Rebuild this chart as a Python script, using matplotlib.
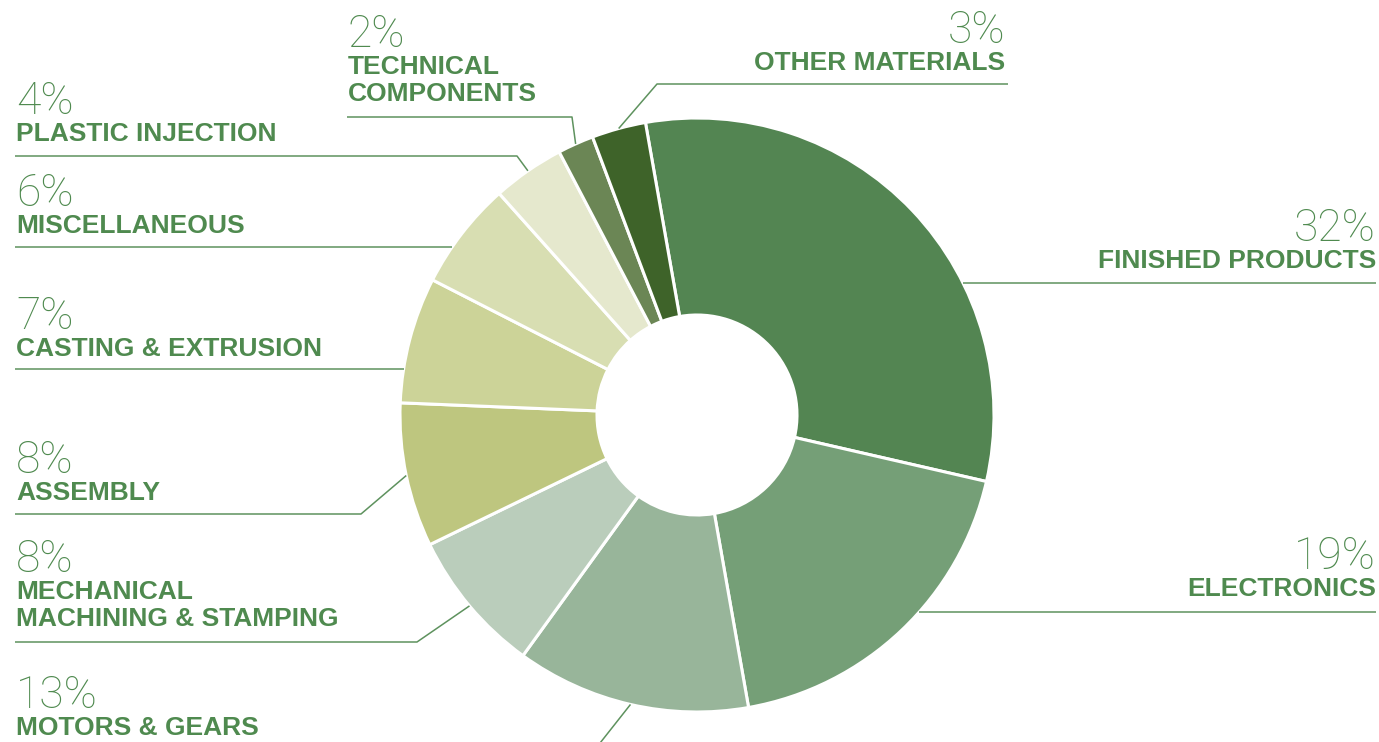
import matplotlib
matplotlib.use("Agg")
import matplotlib.pyplot as plt
import numpy as np

# share of purchases by category, going clockwise from the top
categories = [
    "FINISHED PRODUCTS",
    "ELECTRONICS",
    "MOTORS & GEARS",
    "MECHANICAL\nMACHINING & STAMPING",
    "ASSEMBLY",
    "CASTING & EXTRUSION",
    "MISCELLANEOUS",
    "PLASTIC INJECTION",
    "TECHNICAL\nCOMPONENTS",
    "OTHER MATERIALS",
]
shares = [32, 19, 13, 8, 8, 7, 6, 4, 2, 3]
colors = [
    "#538552", "#759f77", "#98b59a", "#bacdbb", "#bec67f",
    "#ccd398", "#d8deb2", "#e5e8cd", "#6b8655", "#3e6329",
]

W, H = 1379, 742
CX, CY, R, R_IN = 697, 415, 297, 100
GREEN = "#4f8a4f"
LINE = "#5e925e"

# label layout in pixels (y down):
# text x, alignment, baseline of the percentage, underline y, far end of underline, elbow
layout = [
    (1376, "right", 241, 283, 1376, None),
    (1376, "right", 569, 612, 1376, None),
    (16, "left", 708, 776, 15, (574, 776)),
    (16, "left", 572, 642, 15, (417, 642)),
    (16, "left", 473, 514, 15, (361, 514)),
    (16, "left", 329, 369, 15, None),
    (16, "left", 206, 247, 15, None),
    (16, "left", 114, 156, 15, (517, 156)),
    (348, "left", 47, 117, 347, (572, 117)),
    (1005, "right", 43, 84, 1008, (657, 84)),
]
LINE_STEP = 27

fig = plt.figure(figsize=(W / 100, H / 100), dpi=100)
ax = fig.add_axes([0, 0, 1, 1])

wedges, _ = ax.pie(
    shares,
    colors=colors,
    startangle=-100,
    counterclock=True,
    radius=R,
    center=(CX, CY),
    wedgeprops=dict(width=R - R_IN, edgecolor="white", linewidth=2.2),
)
ax.set_xlim(0, W)
ax.set_ylim(H, 0)
ax.set_axis_off()

pct_font = dict(family=["Roboto", "DejaVu Sans"], weight="light", size=32, color=GREEN)
name_font = dict(family=["Liberation Sans", "DejaVu Sans"], weight="bold", size=19, color=GREEN)

for wedge, name, share, (tx, ha, py, ly, far, elbow) in zip(wedges, categories, shares, layout):
    ax.text(tx, py, f"{share}%", ha=ha, va="baseline", **pct_font)
    for i, line in enumerate(name.split("\n")):
        ax.text(tx, py + LINE_STEP * (i + 1), line, ha=ha, va="baseline", **name_font)

    if elbow is None:
        # straight underline running up to the rim
        dx = np.sqrt(R ** 2 - (ly - CY) ** 2)
        x_rim = CX + dx if far > CX else CX - dx
        xs, ys = [far, x_rim], [ly, ly]
    else:
        mid = np.deg2rad((wedge.theta1 + wedge.theta2) / 2)
        ax_, ay_ = CX + R * np.cos(mid), CY + R * np.sin(mid)
        xs, ys = [far, elbow[0], ax_], [ly, elbow[1], ay_]
    ax.plot(xs, ys, color=LINE, lw=1.1, solid_capstyle="butt", clip_on=False)

fig.savefig("out.png", dpi=100)
